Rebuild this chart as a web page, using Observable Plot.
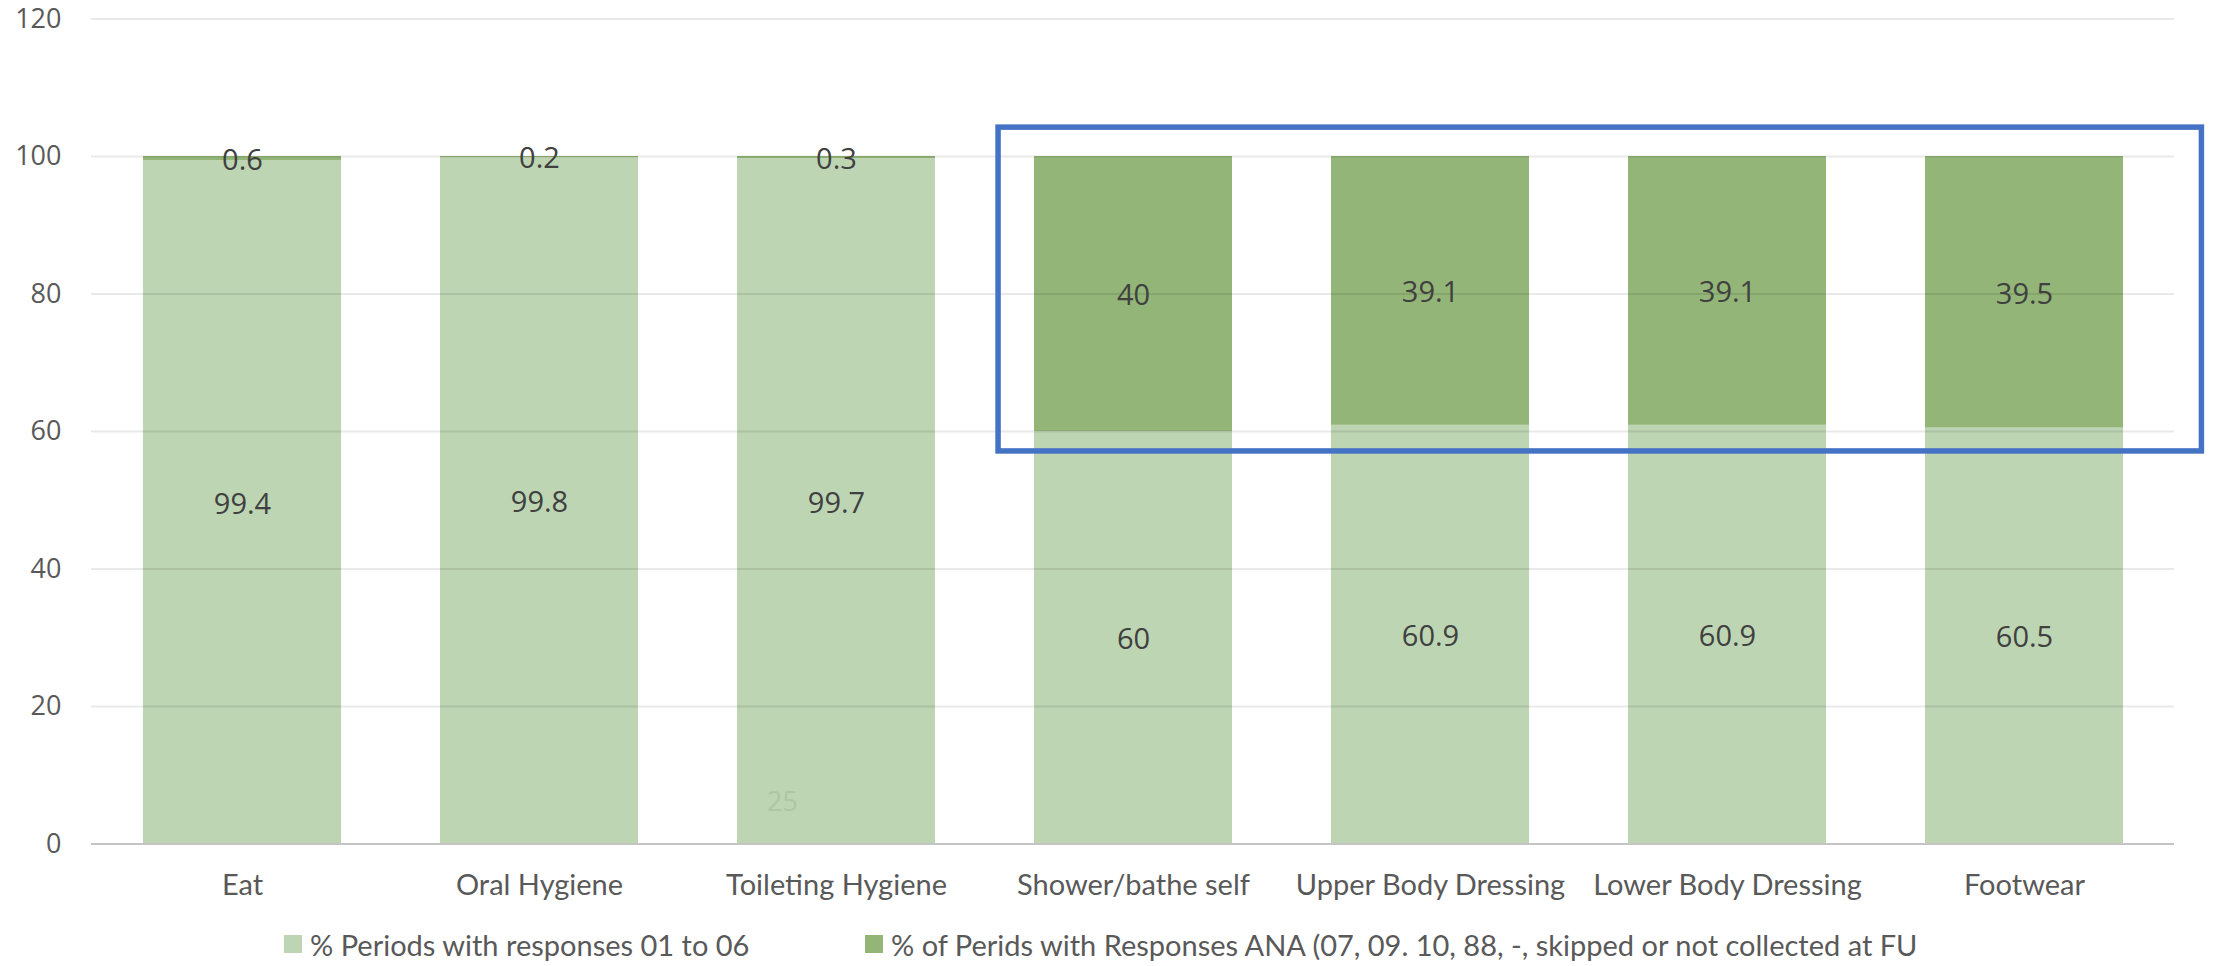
<!DOCTYPE html>
<html>
<head>
<meta charset="utf-8">
<script src="https://cdn.jsdelivr.net/npm/d3@7"></script>
<script src="https://cdn.jsdelivr.net/npm/@observablehq/plot@0.6"></script>
<style>
  html, body { margin: 0; padding: 0; background: #fff; }
  #wrap { width: 2221px; height: 966px; position: relative; overflow: hidden; }
  #legend { position: relative; height: 56px; font-family: Lato, sans-serif; font-size: 29px; color: #595959; }
  .item { position: absolute; top: 16px; display: flex; align-items: center; height: 36px; white-space: nowrap; }
  .sw { width: 18px; height: 18px; margin-right: 8px; }
</style>
</head>
<body>
<div id="wrap">
  <div id="chart"></div>
  <div id="legend"></div>
</div>
<script>
// ---- data ----
const categories = ["Eat", "Oral Hygiene", "Toileting Hygiene", "Shower/bathe self", "Upper Body Dressing", "Lower Body Dressing", "Footwear"];
const seriesNames = ["% Periods with responses 01 to 06", "% of Perids with Responses ANA (07, 09. 10, 88, -, skipped or not collected at FU"];
const responses01to06 = [99.4, 99.8, 99.7, 60, 60.9, 60.9, 60.5];
const responsesANA = [0.6, 0.2, 0.3, 40, 39.1, 39.1, 39.5];
const yTicks = [0, 20, 40, 60, 80, 100, 120];
const strayLabel = [{cat: "Toileting Hygiene", y: 6.1, label: "25"}];
const highlight = {from: "Shower/bathe self", to: "Footwear", yTop: 104.2, yBottom: 57.1};
const colors = ["#bdd5b3", "#93b577"];

(function () {
  const rows = [];
  categories.forEach((c, i) => {
    rows.push({cat: c, series: seriesNames[0], value: responses01to06[i]});
    rows.push({cat: c, series: seriesNames[1], value: responsesANA[i]});
  });

  const plot = Plot.plot({
    width: 2221,
    height: 910,
    marginLeft: 91,
    marginRight: 47,
    marginTop: 18.5,
    marginBottom: 66.5,
    style: {fontFamily: "Lato, sans-serif", background: "white", overflow: "visible"},
    x: {type: "band", domain: categories, paddingInner: 0.335, paddingOuter: 0.1675, align: 0.5, label: null},
    y: {domain: [0, 120], label: null},
    color: {domain: seriesNames, range: colors},
    marks: [
      Plot.barY(rows, {x: "cat", y: "value", fill: "series", z: "series"}),
      Plot.gridY(yTicks, {stroke: "#000", strokeOpacity: 0.085, strokeWidth: 2}),
      Plot.ruleY([0], {stroke: "#c4c4c4", strokeWidth: 2}),
      Plot.text(rows, Plot.stackY({x: "cat", y: "value", z: "series", text: d => String(d.value), fill: "#404040", fontSize: 29, fontFamily: "Open Sans, sans-serif", dy: 2})),
      Plot.text(strayLabel, {x: "cat", y: "y", text: "label", dx: -54, fill: "#aec6a3", fontSize: 27, fontFamily: "Open Sans, sans-serif"}),
      Plot.axisY({ticks: yTicks, tickSize: 0, tickPadding: 30, fontSize: 27, fontFamily: "Open Sans, sans-serif", color: "#595959", label: null}),
      Plot.axisX({tickSize: 0, tickPadding: 30, fontSize: 29, color: "#595959", label: null})
    ]
  });
  document.getElementById("chart").appendChild(plot);

  // highlight box (annotation) positioned with the plot's own scales
  const sx = plot.scale("x"), sy = plot.scale("y");
  const step = sx.step;
  const boxLeft = sx.apply(highlight.from) - 0.121 * step;
  const boxRight = sx.apply(highlight.to) + sx.bandwidth + 0.264 * step;
  const boxTop = sy.apply(highlight.yTop), boxBottom = sy.apply(highlight.yBottom);
  d3.select(plot).append("rect")
    .attr("x", boxLeft).attr("y", boxTop)
    .attr("width", boxRight - boxLeft).attr("height", boxBottom - boxTop)
    .attr("fill", "none").attr("stroke", "#4472c4").attr("stroke-width", 5.5);

  // legend
  const legend = document.getElementById("legend");
  const lefts = [284, 865];
  seriesNames.forEach((s, i) => {
    const it = document.createElement("div");
    it.className = "item";
    it.style.left = lefts[i] + "px";
    const sw = document.createElement("div");
    sw.className = "sw";
    sw.style.background = colors[i];
    const tx = document.createElement("span");
    tx.textContent = s;
    it.appendChild(sw); it.appendChild(tx);
    legend.appendChild(it);
  });
})();
</script>
</body>
</html>
